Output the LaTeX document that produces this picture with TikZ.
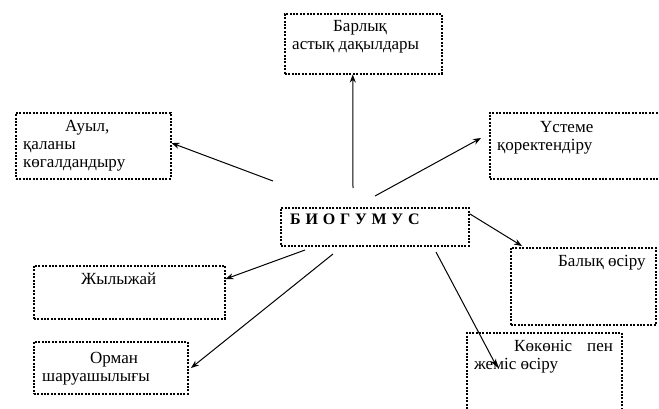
\documentclass[tikz,border=0pt]{standalone}
\usepackage{fontspec}
\setmainfont{Liberation Serif}
\usetikzlibrary{arrows.meta}
\tikzset{
  dbox/.style={draw, line width=1.5pt, dash pattern=on 2pt off 1.4pt, inner sep=0pt, anchor=north west},
  txt/.style={inner sep=0pt, anchor=base west, font=\fontsize{17}{20}\selectfont},
  arr/.style={line width=1pt, -{Stealth[length=8pt,width=6pt]}}
}
\begin{document}
\begin{tikzpicture}[x=1pt,y=-1pt]
\useasboundingbox (0,0) rectangle (659,408);
% boxes
\node[dbox, minimum width=157pt, minimum height=60pt] (barlyk) at (284,13) {};
\node[dbox, minimum width=155pt, minimum height=66pt] (auyl) at (15,112) {};
\node[dbox, minimum width=175pt, minimum height=66pt] (ustem) at (489,112) {};
\node[dbox, minimum width=188pt, minimum height=38pt] (bio) at (280,207) {};
\node[dbox, minimum width=191pt, minimum height=53pt] (zhyly) at (33,265) {};
\node[dbox, minimum width=154pt, minimum height=52pt] (orman) at (33,341) {};
\node[dbox, minimum width=145pt, minimum height=77pt] (balyk) at (510,247) {};
\node[dbox, minimum width=155pt, minimum height=85pt] (kokon) at (466,332) {};
% texts
\node[txt] (t1a) at (333,31) {Барлық};
\node[txt] (t1b) at (292,49) {астық дақылдары};
\node[txt] (t2a) at (65,131) {Ауыл,};
\node[txt] (t2b) at (23,149) {қаланы};
\node[txt] (t2c) at (23,167) {көгалдандыру};
\node[txt] (t3a) at (540,132) {Үстеме};
\node[txt] (t3b) at (497,150) {қоректендіру};
\node[txt, font=\fontsize{16}{20}\selectfont\bfseries\addfontfeature{LetterSpace=30}] (t4) at (290,224) {БИОГУМУС};
\node[txt] (t5) at (81,284) {Жылыжай};
\node[txt] (t6a) at (90,363) {Орман};
\node[txt] (t6b) at (42,381) {шаруашылығы};
\node[txt] (t7) at (558,266) {Балық өсіру};
\node[txt] (t8a) at (514,351) {Көкөніс};
\node[txt] (t8b) at (587,351) {пен};
\node[txt] (t8c) at (474,369) {жеміс өсіру};
% arrow start/end coordinates
\coordinate (s1) at (353,188);
\coordinate (s2) at (273,181);
\coordinate (s3) at (375,196);
\coordinate (s4) at (470,214);
\coordinate (s5) at (305,250);
\coordinate (s6) at (333,254);
\coordinate (s7) at (436,252);
\coordinate (e7) at (497,367);
% arrows
\draw[arr] (s1) -- ([xshift=-10.5pt]barlyk.south);
\draw[arr] (s2) -- (auyl.east |- 0,143);
\draw[arr] (s3) -- (481,138);
\draw[arr] (s4) -- (522,246);
\draw[arr] (s5) -- (zhyly.east |- 0,279);
\draw[arr] (s6) -- (191,368);
\draw[arr] (s7) -- (e7);
\end{tikzpicture}
\end{document}
